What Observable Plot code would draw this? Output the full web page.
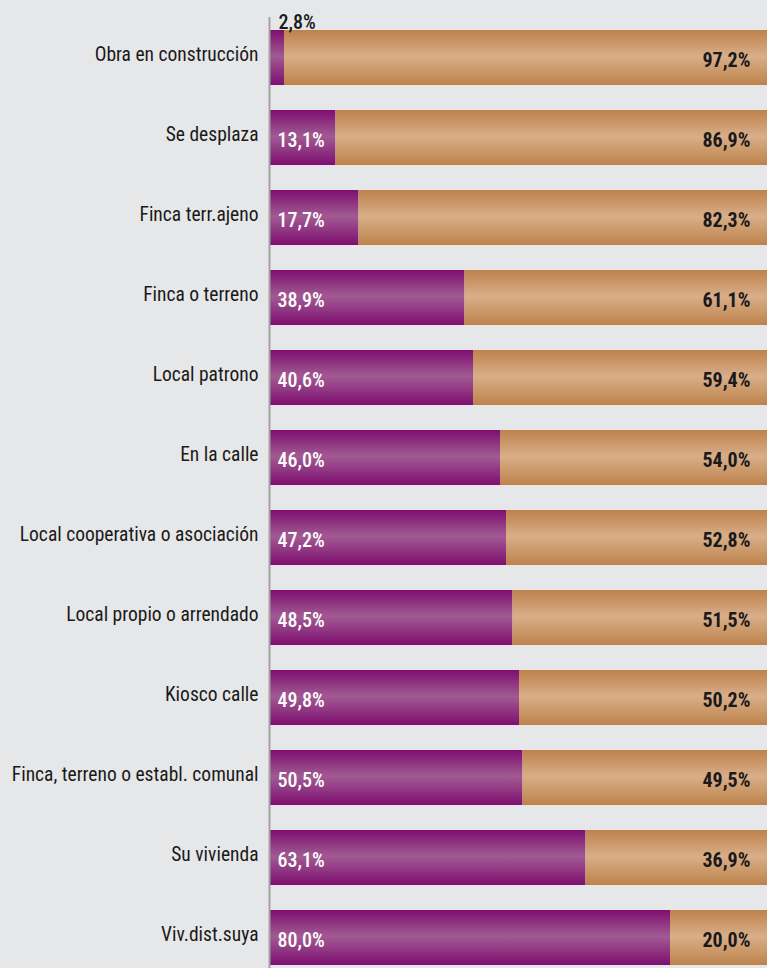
<!DOCTYPE html>
<html><head><meta charset="utf-8">
<script src="https://cdn.jsdelivr.net/npm/d3@7"></script>
<script src="https://cdn.jsdelivr.net/npm/@observablehq/plot@0.6"></script>
<style>
html,body{margin:0;padding:0;background:#e6e7e8;}
#chart svg{display:block;}
</style></head><body><div id="chart"></div>
<script>
const categories = [
  "Obra en construcción",
  "Se desplaza",
  "Finca terr.ajeno",
  "Finca o terreno",
  "Local patrono",
  "En la calle",
  "Local cooperativa o asociación",
  "Local propio o arrendado",
  "Kiosco calle",
  "Finca, terreno o establ. comunal",
  "Su vivienda",
  "Viv.dist.suya"
];
const purpleValues = [2.8, 13.1, 17.7, 38.9, 40.6, 46.0, 47.2, 48.5, 49.8, 50.5, 63.1, 80.0];
const tanValues = [97.2, 86.9, 82.3, 61.1, 59.4, 54.0, 52.8, 51.5, 50.2, 49.5, 36.9, 20.0];

const fmt = v => v.toFixed(1).replace(".", ",") + "%";
const purpleRows = categories.map((c, i) => ({cat: c, value: purpleValues[i]}));
const tanRows = categories.map((c, i) => ({cat: c, start: purpleValues[i], value: tanValues[i]}));

const font = "'Liberation Sans Narrow', 'Arial Narrow', 'Roboto Condensed', 'DejaVu Sans Condensed', sans-serif";

const chart = Plot.plot({
  width: 767,
  height: 968,
  marginLeft: 270,
  marginRight: 0,
  marginTop: 17,
  marginBottom: 0,
  style: {background: "#e6e7e8", fontFamily: font, color: "#1a1a1a"},
  x: {domain: [0, 100], range: [270, 770], axis: null},
  y: {domain: categories, range: [17, 978], paddingInner: 0.3125, paddingOuter: 0.1625, axis: null},
  marks: [
    Plot.barX(purpleRows, {y: "cat", x1: 0, x2: "value", fill: "url(#gradPurple)"}),
    Plot.barX(tanRows, {y: "cat", x1: "start", x2: d => d.start + d.value, fill: "url(#gradTan)"}),
    Plot.ruleX([0], {stroke: "#a3a3a3", strokeWidth: 2, dx: -1}),
    Plot.axisY({tickSize: 0, tickPadding: 12, dy: -3, fontSize: 19.5, label: null, fill: "#1a1a1a"}),
    Plot.text(purpleRows.filter(d => d.value >= 5), {y: "cat", text: d => fmt(d.value), frameAnchor: "left", textAnchor: "start", dx: 7, dy: 3, fill: "white", fontSize: 20, fontWeight: 500}),
    Plot.text(purpleRows.filter(d => d.value < 5), {y: "cat", text: d => fmt(d.value), frameAnchor: "left", textAnchor: "start", dx: 8, dy: -35, fill: "#1a1a1a", fontSize: 20, fontWeight: 500}),
    Plot.text(tanRows, {y: "cat", text: d => fmt(d.value), frameAnchor: "right", textAnchor: "end", dx: -17, dy: 3, fill: "#1a1a1a", fontSize: 20, fontWeight: "bold"})
  ]
});

const defs = d3.select(chart).insert("defs", ":first-child");
function grad(id, edge, mid) {
  const g = defs.append("linearGradient").attr("id", id).attr("x1", 0).attr("y1", 0).attr("x2", 0).attr("y2", 1);
  g.append("stop").attr("offset", "0%").attr("stop-color", edge);
  g.append("stop").attr("offset", "48%").attr("stop-color", mid);
  g.append("stop").attr("offset", "100%").attr("stop-color", edge);
}
grad("gradPurple", "#7e0e71", "#a15b92");
grad("gradTan", "#bd824b", "#d9ae89");

document.getElementById("chart").appendChild(chart);
</script>
</body></html>
